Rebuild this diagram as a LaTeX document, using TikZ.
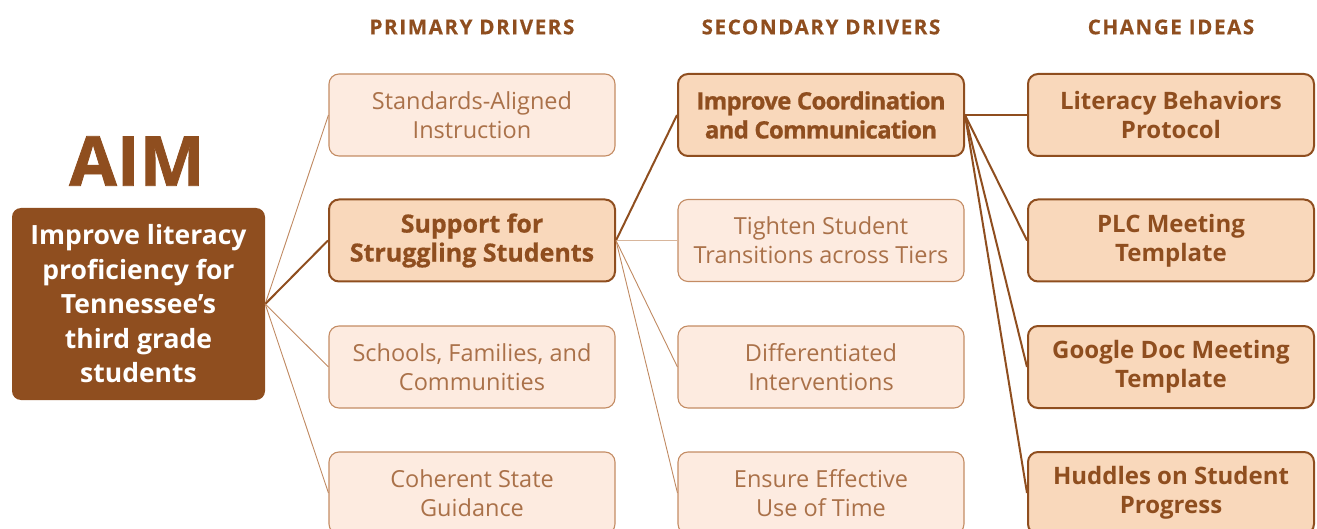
\documentclass[tikz,border=0pt]{standalone}
\usepackage{fontspec}
\setmainfont{Open Sans}
\definecolor{dk}{HTML}{8F4E1F}
\definecolor{hifill}{HTML}{F9D8BB}
\definecolor{ltfill}{HTML}{FDEBE0}
\definecolor{ltborder}{HTML}{C48C64}
\definecolor{lttext}{HTML}{AA7149}
\definecolor{ltline}{HTML}{C08A62}
\definecolor{paleline}{HTML}{D8B69C}
\tikzset{
  box/.style={rounded corners=10pt, minimum width=286pt, minimum height=82pt, align=center, inner sep=0pt},
  lite/.style={box, draw=ltborder, fill=ltfill, text=lttext, line width=1.1pt, font=\fontsize{23.5}{29}\selectfont},
  hi/.style={box, draw=dk, fill=hifill, text=dk, line width=2pt, font=\fontsize{24}{29}\selectfont\bfseries},
  hibig/.style={hi, font=\fontsize{25}{29}\selectfont\bfseries\addfontfeatures{FakeBold=0.6}},
  hicond/.style={hi, font=\fontsize{24}{29}\selectfont\bfseries\addfontfeatures{LetterSpace=-3,FakeBold=0.8}},
  header/.style={text=dk, font=\fontsize{20.5}{22}\selectfont\bfseries\addfontfeatures{LetterSpace=8,FakeBold=0.5}},
  thick link/.style={draw=dk, line width=2pt},
  thin link/.style={draw=ltline, line width=0.9pt},
  pale link/.style={draw=paleline, line width=1.6pt},
}
\begin{document}
\begin{tikzpicture}[x=1pt,y=-1pt]
\useasboundingbox (0,0) rectangle (1317,529);
% headers
\node[header] (h1) at (472,27) {PRIMARY DRIVERS};
\node[header] (h2) at (821,27) {SECONDARY DRIVERS};
\node[header] (h3) at (1171,27) {CHANGE IDEAS};
% aim
\node[text=dk, font=\fontsize{69}{69}\selectfont\bfseries\addfontfeatures{FakeBold=1.2}] (aimt) at (137,161) {AIM};
\node[rounded corners=9pt, fill=dk, text=white, minimum width=253pt, minimum height=192pt, inner sep=0pt, align=center, font=\fontsize{26.5}{34.5}\selectfont\bfseries] (aim) at (138.5,304)
  {Improve literacy\\proficiency for\\Tennessee’s\\third grade\\students};
% primary
\node[lite] (p1) at (472,115) {Standards-Aligned\\Instruction};
\node[hibig] (p2) at (472,240.5) {Support for\\Struggling Students};
\node[lite] (p3) at (472,367) {Schools, Families, and\\Communities};
\node[lite] (p4) at (472,493) {Coherent State\\Guidance};
% secondary
\node[hicond] (s1) at (821,115) {Improve Coordination\\and Communication};
\node[lite] (s2) at (821,240.5) {Tighten Student\\Transitions across Tiers};
\node[lite] (s3) at (821,367) {Differentiated\\Interventions};
\node[lite] (s4) at (821,493) {Ensure Effective\\Use of Time};
% change ideas
\node[hi] (c1) at (1171,115) {Literacy Behaviors\\Protocol};
\node[hi] (c2) at (1171,240.5) {PLC Meeting\\Template};
\node[hi] (c3) at (1171,367) {Google Doc Meeting\\Template};
\node[hi] (c4) at (1171,493) {Huddles on Student\\Progress};
% links
\draw[thin link] (aim.east) -- (p1.west);
\draw[thick link] (aim.east) -- (p2.west);
\draw[thin link] (aim.east) -- (p3.west);
\draw[thin link] (aim.east) -- (p4.west);
\draw[thick link] (p2.east) -- (s1.west);
\draw[pale link] (p2.east) -- (s2.west);
\draw[thin link] (p2.east) -- (s3.west);
\draw[thin link] (p2.east) -- (s4.west);
\draw[thick link] (s1.east) -- (c1.west);
\draw[thick link] (s1.east) -- (c2.west);
\draw[thick link] (s1.east) -- (c3.west);
\draw[thick link] (s1.east) -- (c4.west);
\end{tikzpicture}
\end{document}
